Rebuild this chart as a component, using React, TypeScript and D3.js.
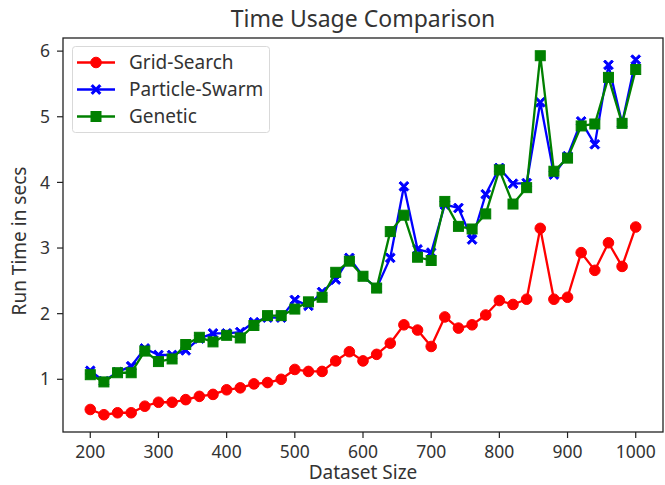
import React from "react";
import * as d3 from "d3";

const sizes = d3.range(200, 1001, 20);

const gridSearch = [
  0.54, 0.46, 0.49, 0.49, 0.59, 0.65, 0.65, 0.69, 0.74, 0.77, 0.84, 0.87, 0.93, 0.95, 1.0,
  1.15, 1.12, 1.12, 1.28, 1.42, 1.28, 1.38, 1.55, 1.83, 1.75, 1.5, 1.95, 1.78, 1.83, 1.98,
  2.2, 2.14, 2.22, 3.3, 2.22, 2.25, 2.93, 2.66, 3.08, 2.72, 3.32,
];

const particleSwarm = [
  1.13, 0.97, 1.11, 1.2, 1.47, 1.37, 1.37, 1.44, 1.62, 1.7, 1.7, 1.72, 1.87, 1.94, 1.94,
  2.21, 2.12, 2.33, 2.52, 2.85, 2.57, 2.39, 2.85, 3.94, 2.98, 2.93, 3.66, 3.61, 3.13, 3.82,
  4.22, 3.98, 3.99, 5.22, 4.12, 4.4, 4.93, 4.58, 5.79, 4.9, 5.87,
];

const genetic = [
  1.07, 0.96, 1.1, 1.1, 1.43, 1.27, 1.31, 1.53, 1.64, 1.57, 1.67, 1.63, 1.82, 1.97, 1.97,
  2.07, 2.18, 2.25, 2.63, 2.8, 2.57, 2.39, 3.25, 3.5, 2.86, 2.81, 3.71, 3.33, 3.29, 3.52,
  4.19, 3.67, 3.92, 5.93, 4.17, 4.37, 4.86, 4.89, 5.6, 4.9, 5.72,
];

const xTicks = [200, 300, 400, 500, 600, 700, 800, 900, 1000];
const yTicks = [1, 2, 3, 4, 5, 6];

const seriesList = [
  { name: "Grid-Search", values: gridSearch, color: "#ff0000", marker: "circle" },
  { name: "Particle-Swarm", values: particleSwarm, color: "#0000ff", marker: "x" },
  { name: "Genetic", values: genetic, color: "#008000", marker: "square" },
];

const W = 665;
const H = 485;
const plot = { left: 63, right: 663, top: 38, bottom: 432 };
const FONT = "'Noto Sans', sans-serif";
const TEXT = "#333";

const x = d3.scaleLinear().domain([160, 1040]).range([plot.left, plot.right]);
const y = d3.scaleLinear().domain([0.197, 6.2]).range([plot.bottom, plot.top]);

// filled "X" marker path centred at the origin
const xMarkerPath = (r: number) => {
  const a = r * 0.34;
  const pts: [number, number][] = [
    [-r, -r + a], [-r + a, -r], [0, -a], [r - a, -r], [r, -r + a], [a, 0],
    [r, r - a], [r - a, r], [0, a], [-r + a, r], [-r, r - a], [-a, 0],
  ];
  return "M" + pts.map((p) => p.join(",")).join("L") + "Z";
};

function Marker({ kind, cx, cy, color }: { kind: string; cx: number; cy: number; color: string }) {
  if (kind === "circle") {
    return <circle cx={cx} cy={cy} r={5.3} fill={color} stroke={color} strokeWidth={1} />;
  }
  if (kind === "square") {
    return <rect x={cx - 5} y={cy - 5} width={10} height={10} fill={color} stroke={color} strokeWidth={1} />;
  }
  return <path d={xMarkerPath(4.9)} transform={`translate(${cx},${cy})`} fill={color} stroke={color} strokeWidth={1} />;
}

export default function App() {
  const line = d3
    .line<number>()
    .x((_, i) => x(sizes[i]))
    .y((d) => y(d));

  return (
    <svg width={W} height={H} style={{ position: "absolute", left: 0, top: 0, background: "#fff" }}>
      <rect width={W} height={H} fill="#fff" />
      <defs>
        <clipPath id="plotClip">
          <rect x={plot.left} y={plot.top} width={plot.right - plot.left} height={plot.bottom - plot.top} />
        </clipPath>
      </defs>

      <g clipPath="url(#plotClip)">
        {seriesList.map((s) => (
          <g key={s.name}>
            <path d={line(s.values) || ""} fill="none" stroke={s.color} strokeWidth={2.3} strokeLinejoin="round" />
            {s.values.map((v, i) => (
              <Marker key={i} kind={s.marker} cx={x(sizes[i])} cy={y(v)} color={s.color} />
            ))}
          </g>
        ))}
      </g>

      {/* frame */}
      <rect
        x={plot.left}
        y={plot.top}
        width={plot.right - plot.left}
        height={plot.bottom - plot.top}
        fill="none"
        stroke="#222"
        strokeWidth={1.3}
      />

      {/* x axis */}
      {xTicks.map((t) => (
        <g key={t}>
          <line x1={x(t)} x2={x(t)} y1={plot.bottom} y2={plot.bottom + 6} stroke="#222" strokeWidth={1.2} />
          <text x={x(t)} y={458} fontSize={17.5} fontFamily={FONT} textAnchor="middle" fill={TEXT}>
            {t}
          </text>
        </g>
      ))}

      {/* y axis */}
      {yTicks.map((t) => (
        <g key={t}>
          <line x1={plot.left - 6} x2={plot.left} y1={y(t)} y2={y(t)} stroke="#222" strokeWidth={1.2} />
          <text x={plot.left - 13} y={y(t) + 6.2} fontSize={17.5} fontFamily={FONT} textAnchor="end" fill={TEXT}>
            {t}
          </text>
        </g>
      ))}

      <text x={(plot.left + plot.right) / 2} y={27} fontSize={23} fontFamily={FONT} textAnchor="middle" fill={TEXT}>
        Time Usage Comparison
      </text>
      <text x={(plot.left + plot.right) / 2} y={479} fontSize={19} fontFamily={FONT} textAnchor="middle" fill={TEXT}>
        Dataset Size
      </text>
      <text
        transform={`translate(26,${(plot.top + plot.bottom) / 2 + 6}) rotate(-90)`}
        fontSize={19}
        fontFamily={FONT}
        textAnchor="middle"
        fill={TEXT}
      >
        Run Time in secs
      </text>

      {/* legend */}
      <rect x={72.5} y={46.5} width={197} height={86} rx={3} fill="#fff" fillOpacity={0.8} stroke="#d9d9d9" strokeWidth={1} />
      {seriesList.map((s, i) => {
        const ly = 62.5 + i * 27;
        return (
          <g key={s.name}>
            <line x1={77} x2={115} y1={ly} y2={ly} stroke={s.color} strokeWidth={2.3} />
            <Marker kind={s.marker} cx={96} cy={ly} color={s.color} />
            <text x={129} y={ly + 6.5} fontSize={19} fontFamily={FONT} fill={TEXT}>
              {s.name}
            </text>
          </g>
        );
      })}
    </svg>
  );
}
